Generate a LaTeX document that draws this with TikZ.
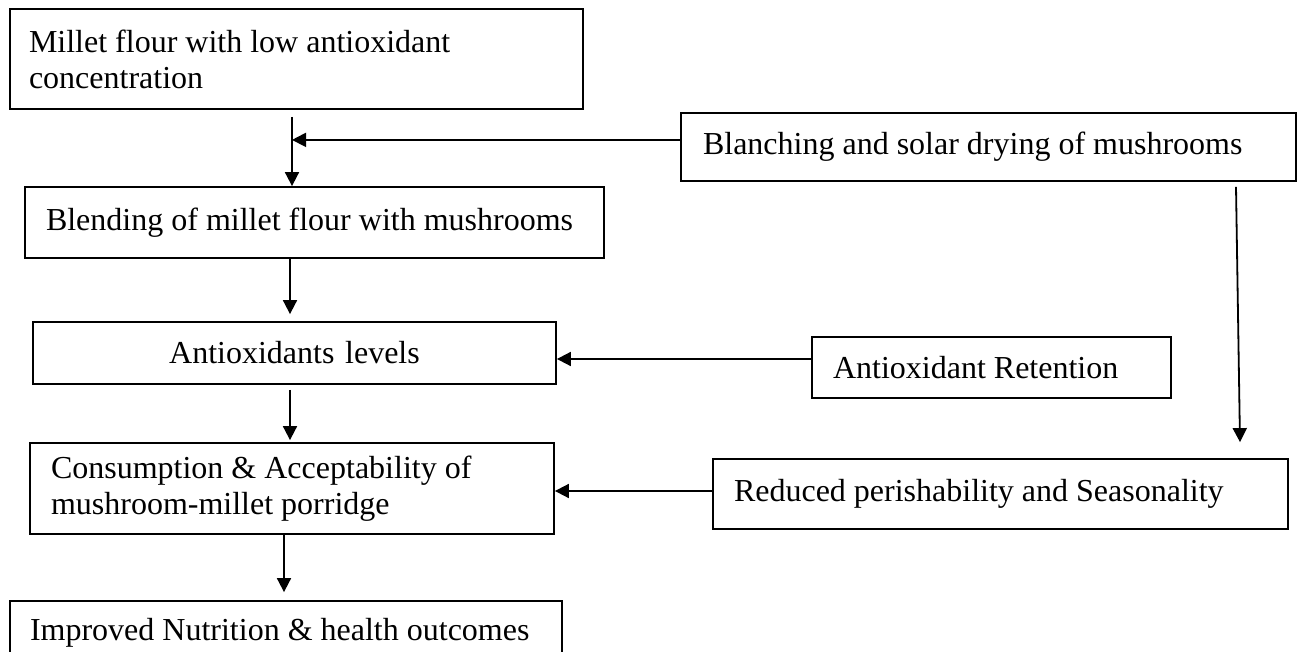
\documentclass[tikz,border=0pt]{standalone}
\usepackage{fontspec}
\setmainfont{Liberation Serif}
\usetikzlibrary{arrows.meta,calc}
\begin{document}
\begin{tikzpicture}[x=1pt,y=-1pt,
  box/.style={draw=black, line width=1.8pt, inner ysep=0pt, align=flush left,
    font=\fontsize{32}{36}\selectfont},
  arr/.style={line width=1.8pt, -{Triangle[length=14pt,width=14pt]}}]
\clip (0,0) rectangle (1303,652);
\fill[white] (0,0) rectangle (1303,652);
% boxes (text width = width - 2*inner xsep)
\node[box, minimum width=573pt, minimum height=100pt, inner xsep=19pt, text width=535pt] (b1) at (296.5,59) {Millet flour with low antioxidant\\concentration};
\node[box, minimum width=615pt, minimum height=68pt, inner xsep=22pt, text width=571pt] (b2) at (988.5,147) {Blanching and solar drying of mushrooms};
\node[box, minimum width=579pt, minimum height=71pt, inner xsep=21pt, text width=537pt] (blend) at (314.5,222.5) {Blending of millet flour with mushrooms};
\node[box, minimum width=523pt, minimum height=62pt, inner xsep=10pt, text width=503pt, align=center] (al) at (294.5,353) {Antioxidants levels};
\node[box, minimum width=359pt, minimum height=61pt, inner xsep=21pt, text width=317pt] (ar) at (991.5,367.5) {Antioxidant Retention};
\node[box, minimum width=524pt, minimum height=91pt, inner xsep=21pt, text width=482pt] (cons) at (292,488.5) {Consumption \& Acceptability of\\mushroom-millet porridge};
\node[box, minimum width=575pt, minimum height=70pt, inner xsep=21pt, text width=533pt] (rps) at (1000.5,494) {Reduced perishability and Seasonality};
\node[box, minimum width=552pt, minimum height=64pt, inner xsep=20pt, text width=512pt] (fin) at (286,633) {Improved Nutrition \& health outcomes};
% connectors
\coordinate (j1) at ([xshift=-4.5pt,yshift=-30pt]b1.south);
\draw[arr] ([xshift=-4.5pt,yshift=-7pt]b1.south) -- ([xshift=-22.5pt]blend.north);
\draw[arr] (b2.west |- j1) -- (j1);
\draw[arr] ([xshift=-24.5pt]blend.south) -- ([xshift=-4.5pt,yshift=7pt]al.north);
\coordinate (p4) at ([yshift=8.5pt]ar.west);
\draw[arr] (p4) -- (p4 -| al.east);
\draw[arr] ([xshift=-4.5pt,yshift=-5pt]al.south) -- ([xshift=-2pt,yshift=2pt]cons.north);
\coordinate (p6) at ([yshift=3pt]rps.west);
\draw[arr] (p6) -- (p6 -| cons.east);
\draw[arr] ([xshift=247.5pt,yshift=-5pt]b2.south) -- ([xshift=239.5pt,yshift=16pt]rps.north);
\draw[arr] ([xshift=-8pt]cons.south) -- ([xshift=-2pt,yshift=8pt]fin.north);
\end{tikzpicture}
\end{document}
